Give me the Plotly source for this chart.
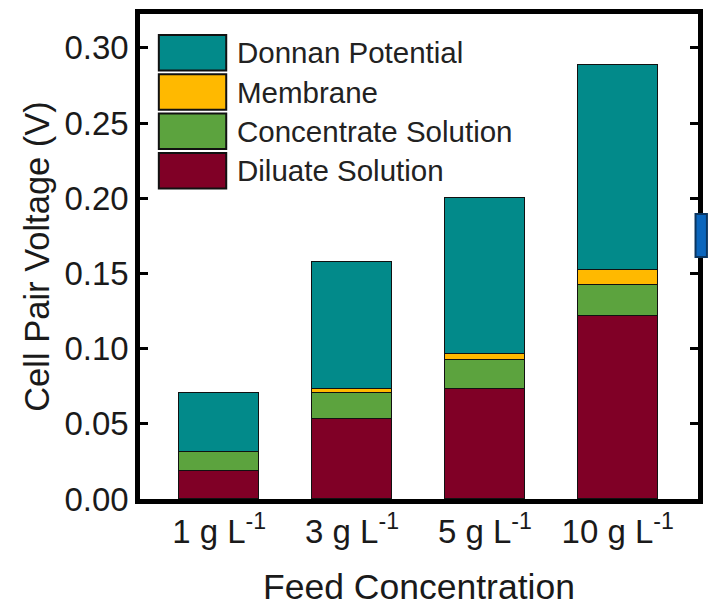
import plotly.graph_objects as go

# Feed concentration categories and stacked voltage contributions (V)
categories = ["1 g L<sup>-1</sup>", "3 g L<sup>-1</sup>", "5 g L<sup>-1</sup>", "10 g L<sup>-1</sup>"]
diluate = [0.0188, 0.0530, 0.0729, 0.1220]
concentrate = [0.0126, 0.0173, 0.0195, 0.0205]
membrane = [0.0, 0.0026, 0.0037, 0.0100]
donnan = [0.0389, 0.0844, 0.1039, 0.1359]

series_names = ["Diluate Solution", "Concentrate Solution", "Membrane", "Donnan Potential"]
series_values = [diluate, concentrate, membrane, donnan]
series_colors = ["#800026", "#5ca33e", "#ffb900", "#028a8a"]

y_ticks = [0.00, 0.05, 0.10, 0.15, 0.20, 0.25, 0.30]

FONT = "Liberation Sans, Arial, sans-serif"
W, H = 710, 609
ML, MR, MT, MB = 140, 7, 14, 110

x_pos = list(range(len(categories)))

fig = go.Figure()
for name, vals, col in zip(series_names, series_values, series_colors):
    fig.add_trace(go.Bar(
        x=x_pos, y=vals, name=name, width=0.6,
        marker=dict(color=col, line=dict(color="#111111", width=1.5)),
        showlegend=False,
    ))

# hand-drawn legend with large swatches (top entry = last stacked series)
pw, ph = W - ML - MR, H - MT - MB
def px_x(px):
    return (px - ML) / pw
def px_y(py):
    return (H - MB - py) / ph

shapes = []
annotations = []
row_top, row_pitch, box_h = 35, 39.3, 35.5
for i, (name, col) in enumerate(zip(series_names[::-1], series_colors[::-1])):
    top = row_top + i * row_pitch
    shapes.append(dict(
        type="rect", xref="paper", yref="paper",
        x0=px_x(159), x1=px_x(227), y0=px_y(top + box_h), y1=px_y(top),
        fillcolor=col, line=dict(color="#111111", width=2), layer="above",
    ))
    annotations.append(dict(
        xref="paper", yref="paper", x=px_x(236), y=px_y(top + box_h / 2),
        text=name, showarrow=False, xanchor="left", yanchor="middle",
        font=dict(family=FONT, size=29.5, color="#222222"),
    ))

# small blue tab at the right edge
shapes.append(dict(
    type="rect", xref="paper", yref="paper",
    x0=px_x(700.5), x1=px_x(712), y0=px_y(257), y1=px_y(214),
    fillcolor="#0b66bd", line=dict(color="#0a3560", width=2), layer="above",
))

fig.update_layout(
    barmode="stack",
    width=W, height=H,
    margin=dict(l=ML, r=MR, t=MT, b=MB),
    paper_bgcolor="white", plot_bgcolor="white",
    shapes=shapes, annotations=annotations,
    bargap=0,
    xaxis=dict(
        range=[-0.596, 3.604],
        tickvals=x_pos, ticktext=categories,
        showgrid=False, zeroline=False,
        showline=True, linecolor="black", linewidth=4.5, mirror=True,
        ticks="",
        tickfont=dict(family=FONT, size=33, color="#1a1a1a"),
        title=dict(text="Feed Concentration", standoff=26,
                   font=dict(family=FONT, size=35.5, color="#1a1a1a")),
    ),
    yaxis=dict(
        range=[0, 0.3225],
        tickvals=y_ticks, tickformat=".2f",
        showgrid=False, zeroline=False,
        showline=True, linecolor="black", linewidth=4.5, mirror="ticks",
        ticks="inside", ticklen=8, tickwidth=3, tickcolor="black",
        tickfont=dict(family=FONT, size=33, color="#1a1a1a"),
        title=dict(text="Cell Pair Voltage (V)", standoff=6,
                   font=dict(family=FONT, size=34.5, color="#1a1a1a")),
    ),
)

fig.write_html("out.html")
